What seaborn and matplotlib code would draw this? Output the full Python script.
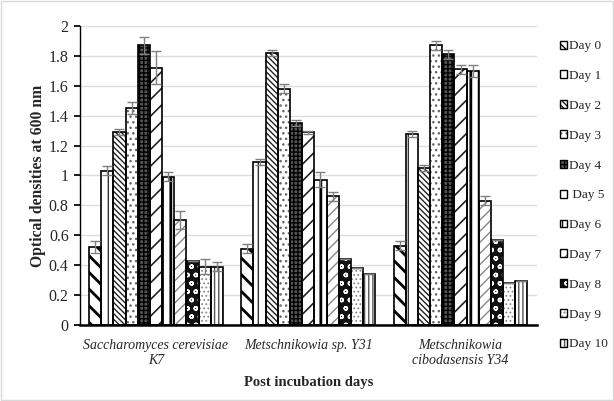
import numpy as np
import pandas as pd
import matplotlib
matplotlib.use("Agg")
import matplotlib.pyplot as plt
from matplotlib.patches import Rectangle
from matplotlib.legend_handler import HandlerPatch
import seaborn as sns

strains = ["Saccharomyces cerevisiae\nK7", "Metschnikowia sp. Y31", "Metschnikowia\ncibodasensis Y34"]
days = ["Day 0", "Day 1", "Day 2", "Day 3", "Day 4", "Day 5", "Day 6", "Day 7", "Day 8", "Day 9", "Day 10"]
legend_labels = ["Day 0", "Day 1", "Day 2", "Day 3", "Day 4", " Day 5", "Day 6", "Day 7", "Day 8", "Day 9", "Day 10"]

k7 = [0.52, 1.03, 1.29, 1.45, 1.87, 1.72, 0.99, 0.70, 0.43, 0.39, 0.39]
y31 = [0.51, 1.09, 1.82, 1.58, 1.35, 1.29, 0.97, 0.86, 0.44, 0.38, 0.34]
y34 = [0.53, 1.28, 1.05, 1.87, 1.81, 1.71, 1.70, 0.83, 0.57, 0.28, 0.29]

k7_err = [0.04, 0.03, 0.02, 0.04, 0.06, 0.11, 0.03, 0.06, 0.00, 0.05, 0.03]
y31_err = [0.03, 0.02, 0.02, 0.03, 0.02, 0.01, 0.05, 0.03, 0.00, 0.00, 0.00]
y34_err = [0.03, 0.02, 0.02, 0.03, 0.03, 0.03, 0.04, 0.03, 0.00, 0.00, 0.00]

values = [k7, y31, y34]
errors = [k7_err, y31_err, y34_err]

rows = []
for s, vals, errs in zip(strains, values, errors):
    for d, v, e in zip(days, vals, errs):
        rows.append({"strain": s, "day": d, "od": v, "err": e})
df = pd.DataFrame(rows)

sns.set_theme(style="white")
plt.rcParams["font.family"] = ["Liberation Serif", "DejaVu Serif"]
plt.rcParams["hatch.linewidth"] = 1.0

fig = plt.figure(figsize=(6.14, 4.01), dpi=100)
ax = fig.add_axes([0.130, 0.19, 0.744, 0.745])

sns.barplot(data=df, x="strain", y="od", hue="day", order=strains, hue_order=days,
            errorbar=None, width=0.88, ax=ax, legend=False)

hatches = ["\\\\", "|", "\\\\\\\\\\\\", "...", "++++", "//", "||", "///", "oo", "....", "||||"]
faces = ["white", "white", "white", "white", "#555555", "white", "white", "white", "#111111", "white", "white"]
hcolors = ["black", "#333333", "#222222", "#666666", "black", "#222222", "black", "#888888", "white", "#888888", "#555555"]
hwidths = [2.0, 1.0, 1.0, 1.0, 1.0, 1.2, 2.0, 1.0, 1.0, 0.8, 1.0]

bar_containers = list(ax.containers)
for i, cont in enumerate(bar_containers):
    for j, p in enumerate(cont.patches):
        p.set_facecolor(faces[i])
        p.set_edgecolor(hcolors[i])
        p.set_hatch(hatches[i])
        p.set_linewidth(0)
        try:
            p.set_hatch_linewidth(hwidths[i])
        except AttributeError:
            pass
        ax.add_patch(Rectangle(p.get_xy(), p.get_width(), p.get_height(), fill=False,
                               edgecolor="black", linewidth=1.2, zorder=p.get_zorder() + 0.1))
        x = p.get_x() + p.get_width() / 2
        h = p.get_height()
        e = errors[j][i]
        ax.errorbar(x, h, yerr=e, color="#808080", capsize=3.5, elinewidth=1, capthick=1, fmt="none", zorder=5)

ax.set_xlim(-0.5, 2.5)
ax.set_ylim(0, 2)
ax.set_yticks(np.arange(0, 2.01, 0.2))
ax.set_yticklabels(["0", "0.2", "0.4", "0.6", "0.8", "1", "1.2", "1.4", "1.6", "1.8", "2"], fontsize=11.5)
ax.yaxis.grid(True, color="#dddddd", linewidth=1)
ax.set_axisbelow(True)
for lbl in ax.get_xticklabels():
    lbl.set_fontstyle("italic")
    lbl.set_fontsize(10)
ax.tick_params(axis="y", left=True, length=4, color="black", pad=4)
ax.tick_params(axis="x", bottom=False, pad=4)
for side in ["top", "right"]:
    ax.spines[side].set_visible(False)
ax.spines["left"].set_color("black")
ax.spines["bottom"].set_color("black")
ax.spines["bottom"].set_linewidth(1.8)
ax.spines["left"].set_linewidth(1.0)

ax.set_ylabel("Optical densities at 600 nm", fontsize=11.3, fontweight="bold", labelpad=2)
ax.set_xlabel("Post incubation days", fontsize=10.5, fontweight="bold", labelpad=7)


class OutlinedHandler(HandlerPatch):
    def create_artists(self, legend, orig_handle, xdescent, ydescent, width, height, fontsize, trans):
        r = Rectangle((-xdescent, -ydescent), width, height, facecolor=orig_handle.get_facecolor(),
                      edgecolor=orig_handle.get_edgecolor(), hatch=orig_handle.get_hatch(), linewidth=0,
                      transform=trans)
        o = Rectangle((-xdescent, -ydescent), width, height, fill=False, edgecolor="black",
                      linewidth=1.0, transform=trans)
        return [r, o]


handles = [c.patches[0] for c in bar_containers]
ax.legend(handles, legend_labels, loc="upper left", bbox_to_anchor=(1.04, 0.97),
          frameon=False, fontsize=9.5, handlelength=0.55, handleheight=0.55,
          handletextpad=0.15, labelspacing=1.35, borderaxespad=0.0,
          handler_map={h: OutlinedHandler() for h in handles})

fig.patches.append(plt.Rectangle((0.002, 0.002), 0.996, 0.996, transform=fig.transFigure,
                                 fill=False, edgecolor="#d9d9d9", linewidth=1))
fig.savefig("out.png", dpi=100)
